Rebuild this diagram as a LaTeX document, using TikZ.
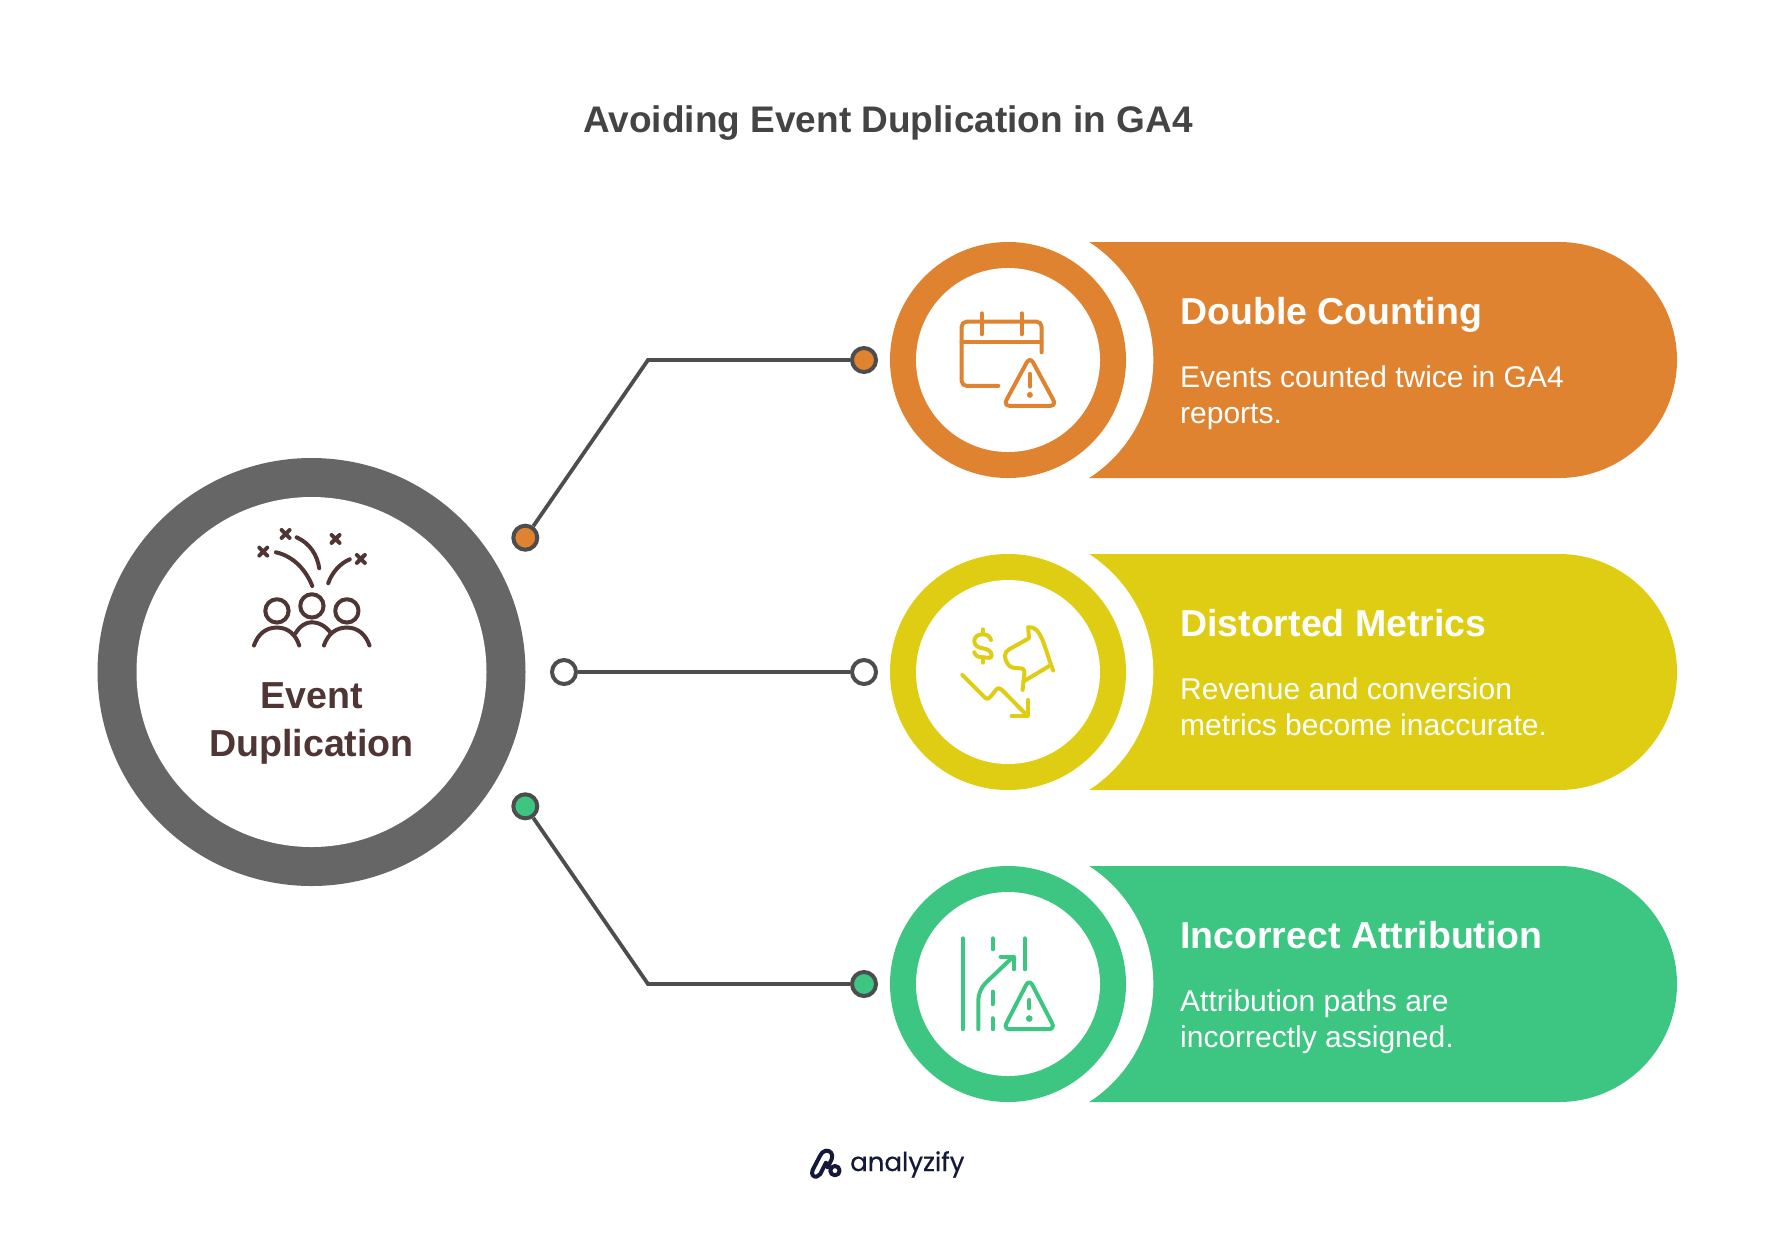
\documentclass[tikz,border=0pt]{standalone}
\usepackage{fontspec}
\setmainfont{Liberation Sans}
\newfontfamily\logofont[FakeBold=0.5]{Poppins}
\definecolor{orangeband}{HTML}{DF8331}
\definecolor{yellowband}{HTML}{DFCD14}
\definecolor{greenband}{HTML}{3DC682}
\definecolor{ringgray}{HTML}{666666}
\definecolor{linegray}{HTML}{4D4D4D}
\definecolor{titlegray}{HTML}{444444}
\definecolor{brownicon}{HTML}{503535}
\definecolor{logonavy}{HTML}{14193A}
\tikzset{
	dotnode/.style={circle,draw=linegray,line width=4pt,minimum size=24pt,inner sep=0pt},
	connline/.style={draw=linegray,line width=3.8pt,line join=miter},
	headtxt/.style={anchor=base west,text=white,font=\bfseries\fontsize{37.5}{38}\selectfont,inner sep=0pt},
	bodytxt/.style={anchor=north west,align=left,text=white,font=\fontsize{30}{36}\selectfont,inner sep=0pt},
	iconline/.style={line width=12pt*0.333,line cap=round,line join=round}
}
% one row: band, white cut, ring
\def\bandrow[#1](#2){
	\fill[#1] (1088,#2-118) -- (1559,#2-118) arc (-90:90:118) -- (1088,#2+118) -- cycle;
	\fill[white] (1013,#2) circle (140.3);
	\fill[#1] (\xring,#2) circle (118);
	\fill[white] (\xring,#2) circle (92);
}
\begin{document}
\begin{tikzpicture}[x=1pt,y=-1pt]
	\def\xring{1008}
	\def\yone{360}
	\def\ytwo{672}
	\def\ythree{984}
	\useasboundingbox (0,0) rectangle (1776,1248);

	\node[text=titlegray,font=\bfseries\fontsize{37}{38}\selectfont] (title) at (888,123.5) {Avoiding Event Duplication in GA4};

	%%%%% LEFT CIRCLE %%%%%
	\fill[ringgray] (311.5,672) circle (214);
	\fill[white] (311.5,672) circle (175);
	\node[align=center,text=brownicon,font=\bfseries\fontsize{37.6}{48}\selectfont,inner sep=0pt] (evt) at (311.5,723) {Event\\Duplication};

	%%%%% BANDS %%%%%
	\bandrow[orangeband](\yone)
	\bandrow[yellowband](\ytwo)
	\bandrow[greenband](\ythree)

	\node[headtxt] (headone) at (1180,324) {Double Counting};
	\node[bodytxt] (bodyone) at (1180,365.5) {Events counted twice in GA4\\reports.};
	\node[headtxt] (headtwo) at (1180,636) {Distorted Metrics};
	\node[bodytxt] (bodytwo) at (1180,677.5) {Revenue and conversion\\metrics become inaccurate.};
	\node[headtxt] (headthree) at (1180,948) {Incorrect Attribution};
	\node[bodytxt] (bodythree) at (1180,989.5) {Attribution paths are\\incorrectly assigned.};

	%%%%% CONNECTORS %%%%%
	\node[dotnode,fill=orangeband] (dotonea) at (525.3,537.7) {};
	\node[dotnode,fill=orangeband] (dotoneb) at (864,\yone) {};
	\node[dotnode,fill=white] (dottwoa) at (564,\ytwo) {};
	\node[dotnode,fill=white] (dottwob) at (864,\ytwo) {};
	\node[dotnode,fill=greenband] (dotthreea) at (525.3,806.3) {};
	\node[dotnode,fill=greenband] (dotthreeb) at (864,\ythree) {};
	\coordinate (bendone) at (648,\yone);
	\coordinate (bendthree) at (648,\ythree);
	\draw[connline] (dotonea) -- (bendone) -- (dotoneb);
	\draw[connline] (dottwoa) -- (dottwob);
	\draw[connline] (dotthreea) -- (bendthree) -- (dotthreeb);

	%%%%% ICON EVENT %%%%%
	\begin{scope}[shift={(220,500)},x=0.333pt,y=-0.333pt,iconline,draw=brownicon]
		\draw (118,143) -- (142,167) (142,143) -- (118,167);
		\draw (185,90) -- (209,114) (209,90) -- (185,114);
		\draw (335,105) -- (359,129) (359,105) -- (335,129);
		\draw (411,165) -- (435,189) (435,165) -- (411,189);
		\draw (168,157) .. controls (225,170) and (260,215) .. (277,258);
		\draw (230,112) .. controls (270,130) and (292,165) .. (298,205);
		\draw (390,178) .. controls (360,190) and (335,220) .. (325,250);
		\draw (171,333) circle (35);
		\draw (276,318) circle (35);
		\draw (381,333) circle (35);
		\draw (102,437) .. controls (115,400) and (140,383) .. (171,383) .. controls (205,383) and (228,405) .. (238,437);
		\draw (312,437) .. controls (325,400) and (350,383) .. (381,383) .. controls (415,383) and (438,405) .. (449,437);
		\draw (227,400) .. controls (240,378) and (258,367) .. (276,367) .. controls (295,367) and (318,378) .. (333,400);
	\end{scope}

	%%%%% ICON CALENDAR %%%%%
	\begin{scope}[shift={(930,290)},x=0.333pt,y=-0.333pt,iconline,draw=orangeband]
		\draw[rounded corners=15*0.333pt] (335,187) -- (335,95) -- (95,95) -- (95,288) -- (205,288);
		\draw (95,155) -- (335,155);
		\draw (155,70) -- (155,133);
		\draw (275,70) -- (275,133);
		\draw[rounded corners=20*0.333pt] (300,200) -- (220,348) -- (380,348) -- cycle;
		\draw (300,252) -- (300,290);
		\fill[orangeband] (300,315) circle (9);
	\end{scope}

	%%%%% ICON REVENUE %%%%%
	\begin{scope}[shift={(930,600)},x=0.333pt,y=-0.333pt,iconline,draw=yellowband]
		\draw (158,88) -- (158,102);
		\draw (158,172) -- (158,188);
		\draw (183,120) .. controls (180,108) and (170,103) .. (158,103) .. controls (142,103) and (133,112) .. (133,124) .. controls (133,137) and (145,143) .. (158,145) .. controls (172,147) and (185,153) .. (185,167) .. controls (185,178) and (172,172) .. (158,172) .. controls (145,172) and (136,168) .. (133,157);
		\draw (295,82) -- (297,115) -- (238,148) .. controls (222,155) and (222,175) .. (232,190) .. controls (240,205) and (255,205) .. (270,205) .. controls (282,205) and (285,212) .. (283,225) -- (278,270);
		\draw (295,82) .. controls (335,75) and (345,150) .. (370,212);
		\draw (280,245) -- (360,197);
		\draw (97,225) -- (165,293) .. controls (172,300) and (178,295) .. (182,290) -- (198,270) .. controls (205,262) and (210,265) .. (216,270) -- (290,345);
		\draw (293,300) -- (293,348) -- (245,348);
	\end{scope}

	%%%%% ICON ROADS %%%%%
	\begin{scope}[shift={(930,910)},x=0.333pt,y=-0.333pt,iconline,draw=greenband]
		\draw (98,85) -- (98,358);
		\draw (188,85) -- (188,118);
		\draw (188,245) -- (188,283);
		\draw (188,325) -- (188,358);
		\draw (285,85) -- (285,178);
		\draw[rounded corners=30*0.333pt] (145,358) -- (145,240) -- (250,140);
		\draw (212,140) -- (252,140) -- (252,178);
		\draw[rounded corners=20*0.333pt] (298,207) -- (220,358) -- (376,358) -- cycle;
		\draw (298,270) -- (298,295);
		\fill[greenband] (298,326) circle (10);
	\end{scope}

	%%%%% LOGO %%%%%
	\begin{scope}[shift={(790,1130)},x=0.333pt,y=-0.333pt,line width=12pt*0.333,line cap=round,line join=round,draw=logonavy]
		\draw (113,112) -- (125,88) .. controls (132,72) and (120,60) .. (107,62) .. controls (98,63) and (93,72) .. (90,78) -- (68,120) .. controls (62,135) and (72,142) .. (80,140) .. controls (90,138) and (93,128) .. (96,122) -- (108,98);
		\draw (135,122) circle (14);
	\end{scope}
	\node[anchor=base west,text=logonavy,font=\logofont\fontsize{26}{26}\selectfont,inner sep=0pt] (logo) at (850,1171) {analyzify};
\end{tikzpicture}
\end{document}
